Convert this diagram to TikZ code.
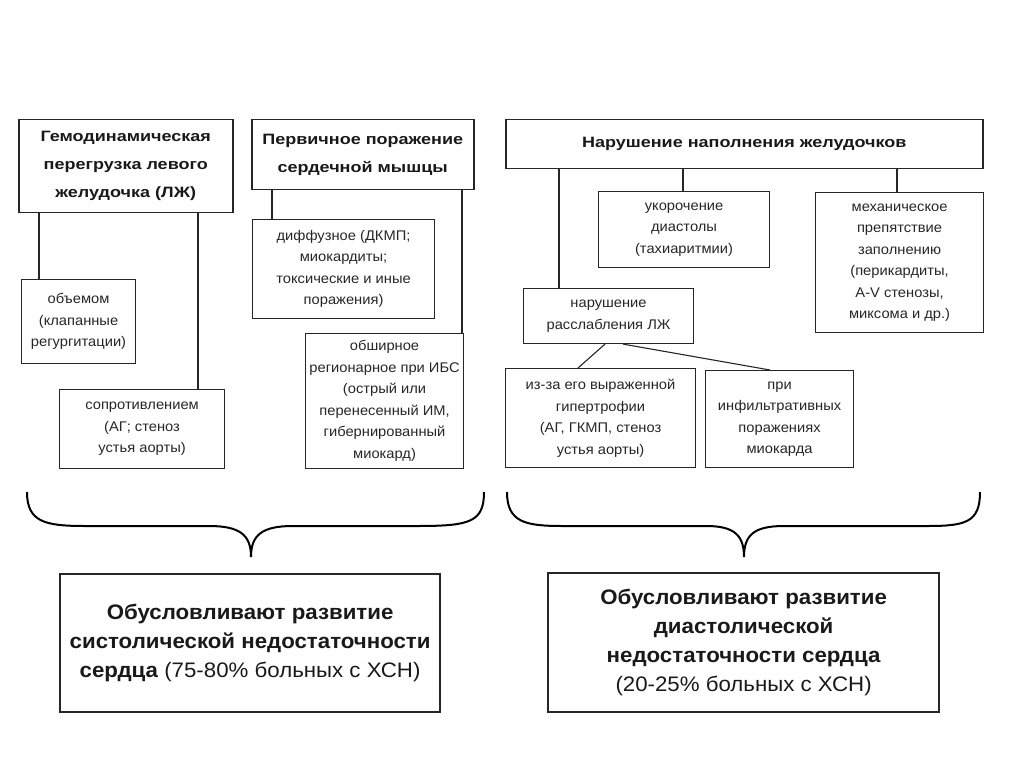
\documentclass[tikz,border=0pt]{standalone}
\usepackage{fontspec}
\setmainfont{Liberation Sans}
\newfontfamily\hfont[FakeStretch=1.2]{Liberation Sans}
\newfontfamily\bfont[FakeStretch=1.06]{Liberation Sans}
\newfontfamily\tfont[FakeStretch=1.05]{Liberation Sans}
\begin{document}
\begin{tikzpicture}[x=1pt,y=-1pt,
  box/.style={draw=black!85, line width=1.1pt, anchor=north west, inner sep=0pt, align=center, text=black!85, font=\tfont\fontsize{14}{21.5}\selectfont},
  hbox/.style={box, line width=1.5pt, text=black!90, font=\hfont\fontsize{15}{28}\selectfont\bfseries},
  sbox/.style={box, line width=2.2pt, text=black!90, font=\bfont\fontsize{21}{29}\selectfont},
  link/.style={draw=black!85, line width=1.1pt},
  brace/.style={draw=black, line width=2pt}]
\useasboundingbox (0,0) rectangle (1024,767);
% header boxes
\node[hbox, minimum width=214pt, minimum height=93pt] (A) at (18,119) {Гемодинамическая\\перегрузка левого\\желудочка (ЛЖ)};
\node[hbox, minimum width=222pt, minimum height=70pt] (B) at (251,119) {Первичное поражение\\сердечной мышцы};
\node[hbox, minimum width=477pt, minimum height=49pt] (C) at (505,119) {Нарушение наполнения желудочков};
% sub boxes
\node[box, minimum width=114pt, minimum height=84pt] (obj) at (21,279) {объемом\\(клапанные\\регургитации)};
\node[box, minimum width=165pt, minimum height=79pt] (sop) at (59,389) {сопротивлением\\(АГ; стеноз\\устья аорты)};
\node[box, minimum width=182pt, minimum height=99pt] (dif) at (252,219) {диффузное (ДКМП;\\миокардиты;\\токсические и иные\\поражения)};
\node[box, minimum width=158pt, minimum height=135pt] (obsh) at (305,333) {обширное\\регионарное при ИБС\\(острый или\\перенесенный ИМ,\\гибернированный\\миокард)};
\node[box, minimum width=171pt, minimum height=76pt] (uk) at (598,191) {укорочение\\диастолы\\(тахиаритмии)};
\node[box, minimum width=168pt, minimum height=140pt] (mech) at (815,192) {механическое\\препятствие\\заполнению\\(перикардиты,\\A-V стенозы,\\миксома и др.)};
\node[box, minimum width=170pt, minimum height=55pt] (ras) at (523,288) {нарушение\\расслабления ЛЖ};
\node[box, minimum width=190pt, minimum height=99pt] (iz) at (505,368) {из-за его выраженной\\гипертрофии\\(АГ, ГКМП, стеноз\\устья аорты)};
\node[box, minimum width=148pt, minimum height=97pt] (pri) at (705,370) {при\\инфильтративных\\поражениях\\миокарда};
% summary boxes
\node[sbox, minimum width=380pt, minimum height=138pt] (S1) at (59,573) {\textbf{Обусловливают развитие}\\\textbf{систолической недостаточности}\\\textbf{сердца} (75-80\% больных с ХСН)};
\node[sbox, minimum width=391pt, minimum height=139pt] (S2) at (547,572) {\textbf{Обусловливают развитие}\\\textbf{диастолической}\\\textbf{недостаточности сердца}\\(20-25\% больных с ХСН)};
% connectors
\draw[link] (A.south -| 39,0) -- (obj.north -| 39,0);
\draw[link] (A.south -| 198,0) -- (sop.north -| 198,0);
\draw[link] (B.south -| 272,0) -- (dif.north -| 272,0);
\draw[link] (B.south -| 462,0) -- (obsh.north -| 462,0);
\draw[link] (C.south -| 559,0) -- (ras.north -| 559,0);
\draw[link] (C.south -| 683,0) -- (uk.north -| 683,0);
\draw[link] (C.south -| 897,0) -- (mech.north -| 897,0);
\draw[link] (ras.south -| 605,0) -- (iz.north -| 578,0);
\draw[link] (ras.south -| 623,0) -- (pri.north -| 770,0);
% braces
\draw[brace] (27,492) .. controls (27,522) and (45,526) .. (85,526) -- (209,526)
  .. controls (240,526) and (251,535) .. (251,557)
  .. controls (251,535) and (262,526) .. (293,526) -- (418,526)
  .. controls (470,526) and (484,522) .. (484,492);
\draw[brace] (507,492) .. controls (507,522) and (525,526) .. (562,526) -- (706,526)
  .. controls (734,526) and (744,535) .. (744,557)
  .. controls (744,535) and (754,526) .. (784,526) -- (928,526)
  .. controls (966,526) and (980,522) .. (980,492);
\end{tikzpicture}
\end{document}
